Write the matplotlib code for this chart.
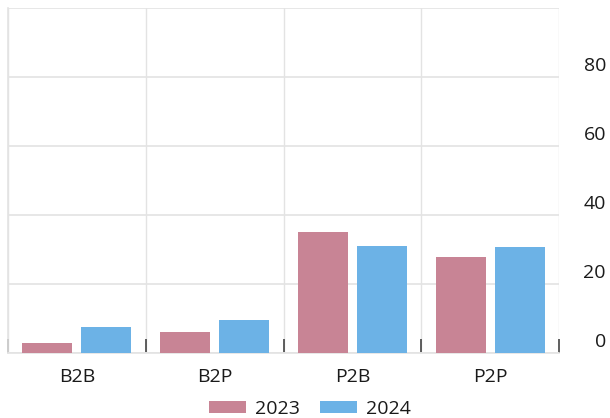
import numpy as np
import matplotlib
matplotlib.use("Agg")
import matplotlib.pyplot as plt
import matplotlib.transforms as mtransforms

plt.rcParams['font.family'] = ['Open Sans', 'DejaVu Sans']

# share by transaction type
categories = ["B2B", "B2P", "P2B", "P2P"]
years = ["2023", "2024"]
values_2023 = [3.0, 6.1, 35.1, 27.8]
values_2024 = [7.5, 9.6, 31.0, 30.7]
y_ticks = [0, 20, 40, 60, 80]

COLOR_2023 = "#c88495"
COLOR_2024 = "#6cb2e6"
GRID = "#e3e3e3"
TEXT = "#1a1a1a"

fig = plt.figure(figsize=(6.1, 4.18), dpi=100)
ax = fig.add_axes([8 / 610, 65 / 418, 551 / 610, 345 / 418])

x = np.arange(len(categories))
width = 0.362
offset = 0.214
ax.bar(x - offset, values_2023, width, color=COLOR_2023, label=years[0], zorder=3)
ax.bar(x + offset, values_2024, width, color=COLOR_2024, label=years[1], zorder=3)

ax.set_xlim(-0.5, len(categories) - 0.5)
ax.set_ylim(0, 100)

# category labels in the middle, boundary ticks between groups
ax.set_xticks(x)
ax.set_xticklabels(categories, fontsize=14, color=TEXT)
ax.tick_params(axis="x", which="major", length=0, pad=11)
ax.set_xticks(np.arange(len(categories) + 1) - 0.5, minor=True)
ax.tick_params(axis="x", which="minor", direction="in", length=10,
               width=1.2, color="#444444")
ax.grid(axis="x", which="minor", color=GRID, lw=1, zorder=0)

ax.set_yticks(list(y_ticks) + [100])
ax.set_yticklabels([])
ax.tick_params(axis="y", length=0)
ax.grid(axis="y", which="major", color=GRID, lw=1.2, zorder=0)

# value labels sit just above each gridline, right of the plot
lift = mtransforms.ScaledTranslation(0, 6 / 100, fig.dpi_scale_trans)
trans = mtransforms.blended_transform_factory(fig.transFigure, ax.transData) + lift
for v in y_ticks:
    ax.text(606 / 610, v, str(v), transform=trans, ha="right", va="baseline",
            fontsize=14, color=TEXT, clip_on=False)

for side in ["top", "right"]:
    ax.spines[side].set_visible(False)
for side in ["left", "bottom"]:
    ax.spines[side].set_color(GRID)
    ax.spines[side].set_linewidth(1.2)

fig.legend(loc="center", bbox_to_anchor=(310 / 610, 1 - 409 / 418), ncol=2,
           frameon=False, fontsize=14, handlelength=1.9, handleheight=0.62,
           columnspacing=1.0, handletextpad=0.5, labelcolor=TEXT)

fig.savefig("out.png", dpi=100)
